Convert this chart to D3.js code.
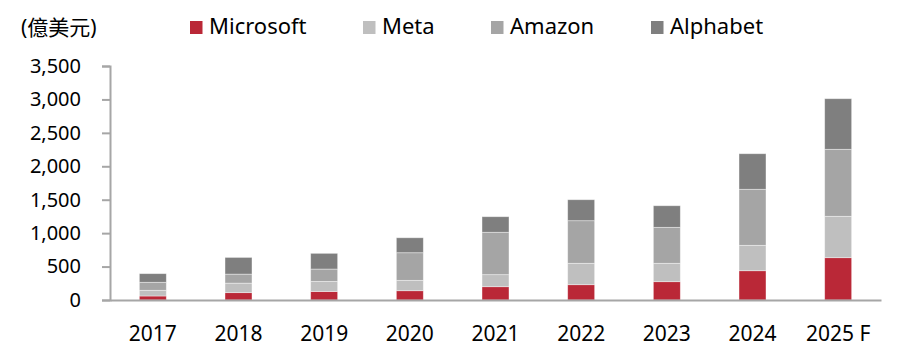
<!DOCTYPE html>
<html><head><meta charset="utf-8">
<script src="https://cdn.jsdelivr.net/npm/d3@7"></script>
<style>body{margin:0;background:#fff}svg{display:block}</style>
</head><body>
<script>
const categories = ["2017","2018","2019","2020","2021","2022","2023","2024","2025 F"];
const seriesNames = ["Microsoft","Meta","Amazon","Alphabet"];
const microsoft = [60,110,128,139,199,229,274,438,633];
const meta      = [85,142,150,155,180,320,275,380,619];
const amazon    = [120,135,185,413,634,637,538,838,1002];
const alphabet  = [129,250,235,224,233,314,323,532,757];
const yTicks = [0,500,1000,1500,2000,2500,3000,3500];
const unitLabel = "(億美元)";

const colors = ["#BA2837","#BFBFBF","#A5A5A5","#7F7F7F"];
const W=907,H=357;
const font = "'Noto Sans','Noto Sans CJK TC',sans-serif";
const svg = d3.select("body").append("svg").attr("width",W).attr("height",H);
const m={l:110,r:881,t:66,b:300};
const x = d3.scaleBand().domain(categories).range([m.l,m.r]).paddingInner(0.685).paddingOuter(0.3425);
const y = d3.scaleLinear().domain([0,3500]).range([m.b,m.t]);

const rows = categories.map((c,i)=>({cat:c,Microsoft:microsoft[i],Meta:meta[i],Amazon:amazon[i],Alphabet:alphabet[i]}));
const stack = d3.stack().keys(seriesNames)(rows);

svg.append("g").selectAll("g").data(stack).join("g").attr("fill",(d,i)=>colors[i])
  .selectAll("rect").data(d=>d).join("rect")
  .attr("x",d=>x(d.data.cat)).attr("width",x.bandwidth())
  .attr("y",d=>y(d[1])).attr("height",d=>y(d[0])-y(d[1]))
  .attr("stroke","#fff").attr("stroke-opacity",0.5).attr("stroke-width",0.8);

// y axis
const ya = svg.append("g").attr("transform",`translate(${m.l},0)`)
  .call(d3.axisLeft(y).tickValues(yTicks).tickSize(8).tickPadding(21).tickFormat(d3.format(",")));
ya.select(".domain").attr("stroke","#A6A6A6").attr("stroke-width",2);
ya.selectAll(".tick line").attr("stroke","#A6A6A6").attr("stroke-width",2);
ya.selectAll("text").attr("font-family",font).attr("font-size",20).attr("fill","#000");

// x axis
const xa = svg.append("g").attr("transform",`translate(0,${m.b})`)
  .call(d3.axisBottom(x).tickSize(0).tickPadding(26));
xa.select(".domain").attr("stroke","#A6A6A6").attr("stroke-width",2);
xa.selectAll("text").attr("font-family",font).attr("font-size",21).attr("fill","#000");

svg.append("text").attr("x",21).attr("y",35).attr("font-family",font).attr("font-size",21).text(unitLabel);

// legend
const legX=[190,363,491,651];
const lg = svg.append("g").selectAll("g").data(seriesNames).join("g")
  .attr("transform",(d,i)=>`translate(${legX[i]},21)`);
lg.append("rect").attr("width",12.5).attr("height",13).attr("fill",(d,i)=>colors[i]);
lg.append("text").attr("x",19).attr("y",13.3).attr("font-family",font).attr("font-size",22).text(d=>d);
</script>
</body></html>
